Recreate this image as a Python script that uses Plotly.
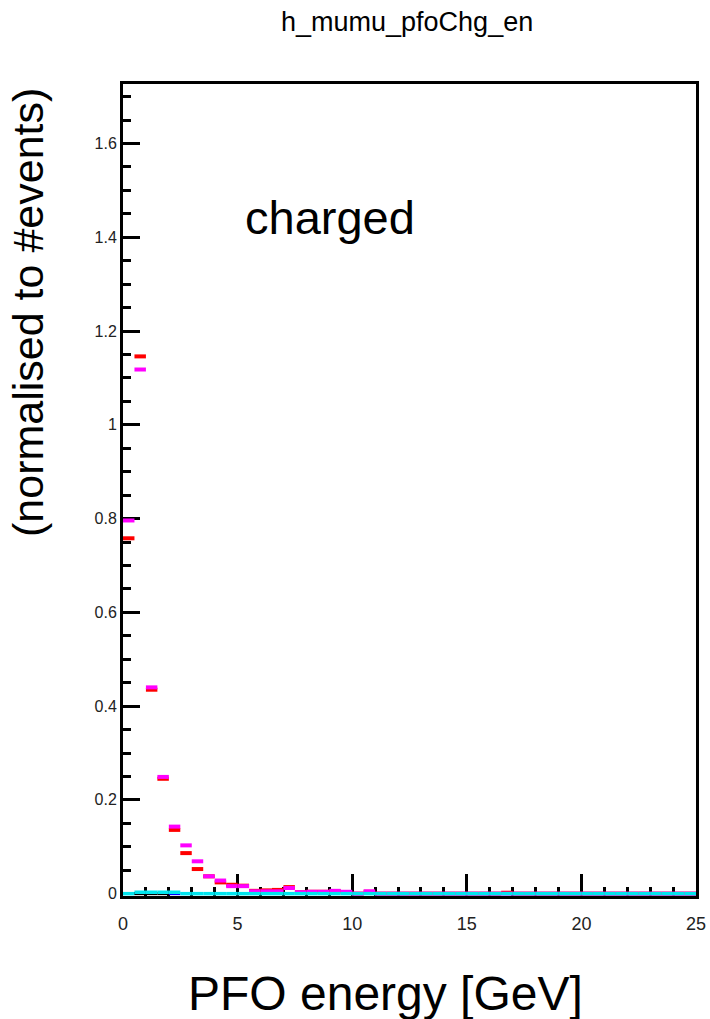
import plotly.graph_objects as go

# PFO energy histogram, 0.5 GeV bins from 0 to 25 GeV
bin_lo = [0.0, 0.5, 1.0, 1.5, 2.0, 2.5, 3.0, 3.5, 4.0, 4.5,
          5.0, 5.5, 6.0, 6.5, 7.0, 7.5, 8.0, 8.5, 9.0, 9.5,
          10.0, 10.5, 11.0, 11.5, 12.0, 12.5, 13.0, 13.5, 14.0, 14.5,
          15.0, 15.5, 16.0, 16.5, 17.0, 17.5, 18.0, 18.5, 19.0, 19.5,
          20.0, 20.5, 21.0, 21.5, 22.0, 22.5, 23.0, 23.5, 24.0, 24.5]
bin_width = 0.5

red_vals = [0.758, 1.146, 0.435, 0.245, 0.136, 0.0865, 0.0525, 0.037, 0.024, 0.019,
            0.017, 0.006, 0.007, 0.008, 0.014, 0.003, 0.004, 0.004, 0.005, 0.003,
            0.0, 0.004, 0.0, 0.0, 0.0, 0.0, 0.0, 0.0, 0.0, 0.0,
            0.0, 0.0, 0.0, 0.002, 0.0, 0.0, 0.0, 0.0, 0.0, 0.0,
            0.0, 0.0, 0.0, 0.0, 0.0, 0.0, 0.0, 0.0, 0.0, 0.0]

magenta_vals = [0.796, 1.118, 0.440, 0.249, 0.143, 0.103, 0.069, 0.037, 0.028, 0.016,
                0.016, 0.005, 0.005, 0.005, 0.012, 0.003, 0.004, 0.004, 0.006, 0.004,
                0.0, 0.005, 0.0, 0.0, 0.0, 0.0, 0.0, 0.0, 0.0, 0.0,
                0.0, 0.0, 0.0, 0.0, 0.0, 0.0, 0.0, 0.0, 0.0, 0.0,
                0.0, 0.0, 0.0, 0.0, 0.0, 0.0, 0.0, 0.0, 0.0, 0.0]

cyan_vals = [0.0, 0.003, 0.003, 0.003, 0.003, 0.0, 0.0, 0.0, 0.0, 0.0,
             0.0, 0.0, 0.0, 0.0, 0.0, 0.0, 0.0, 0.0, 0.0, 0.0,
             0.0, 0.0, 0.0, 0.0, 0.0, 0.0, 0.0, 0.0, 0.0, 0.0,
             0.0, 0.0, 0.0, 0.0, 0.0, 0.0, 0.0, 0.0, 0.0, 0.0,
             0.0, 0.0, 0.0, 0.0, 0.0, 0.0, 0.0, 0.0, 0.0, 0.0]

black_bins = [0.5, 1.0, 1.5]
black_vals = [0.0, 0.0, 0.0]
blue_bins = [2.0]
blue_vals = [0.0]

x_ticks = [0, 5, 10, 15, 20, 25]
y_ticks = [0, 0.2, 0.4, 0.6, 0.8, 1.0, 1.2, 1.4, 1.6]
y_tick_text = ["0", "0.2", "0.4", "0.6", "0.8", "1", "1.2", "1.4", "1.6"]

FONT = "Liberation Sans, Arial, sans-serif"

# plot-area geometry in pixels
L, R, T, B = 123, 14, 84, 123
PW, PH = 710 - L - R, 1019 - T - B


def px_x(px):
    return (px - L) / PW


def px_y(py):
    return (1019 - B - py) / PH


def hist_trace(lows, vals, color, thick):
    centers = [lo + bin_width / 2 for lo in lows]
    return go.Scatter(
        x=centers, y=vals, mode="markers",
        marker=dict(size=0.1, color=color, opacity=0),
        error_x=dict(type="constant", value=bin_width / 2, color=color,
                     thickness=thick, width=0),
        cliponaxis=False, showlegend=False, hoverinfo="x+y",
    )


def label(text, cx, cy, size, angle=0):
    return dict(text=text, xref="paper", yref="paper",
                x=px_x(cx), y=px_y(cy), xanchor="center", yanchor="middle",
                showarrow=False, textangle=angle,
                font=dict(size=size, family=FONT, color="black"))


fig = go.Figure()
fig.add_trace(hist_trace(black_bins, black_vals, "#000000", 3))
fig.add_trace(hist_trace(blue_bins, blue_vals, "#0000ff", 3))
fig.add_trace(hist_trace(bin_lo, red_vals, "#ff0000", 4))
fig.add_trace(hist_trace(bin_lo, magenta_vals, "#ff00ff", 4))
fig.add_trace(hist_trace(bin_lo, cyan_vals, "#00e5ee", 3.5))

fig.update_layout(
    width=710, height=1019,
    margin=dict(l=L, r=R, t=T, b=B, autoexpand=False),
    paper_bgcolor="white", plot_bgcolor="white",
    font=dict(family=FONT, color="#000000"),
    xaxis=dict(
        range=[0, 25], showgrid=False, zeroline=False,
        showline=True, linecolor="black", linewidth=3, mirror=True,
        ticks="inside", ticklen=22, tickwidth=3, tickcolor="black",
        tickvals=x_ticks, ticktext=[str(v) for v in x_ticks],
        tickfont=dict(size=18, color="#222222"),
        ticklabelstandoff=9,
        minor=dict(dtick=1, ticks="inside", ticklen=9, tickwidth=3, tickcolor="black"),
        layer="below traces",
    ),
    yaxis=dict(
        range=[-0.005, 1.727], showgrid=False, zeroline=False,
        showline=True, linecolor="black", linewidth=3, mirror=True,
        ticks="inside", ticklen=17, tickwidth=3, tickcolor="black",
        tickvals=y_ticks, ticktext=y_tick_text,
        tickfont=dict(size=16, color="#222222"),
        minor=dict(dtick=0.05, tick0=0, ticks="inside", ticklen=8, tickwidth=3, tickcolor="black"),
        layer="below traces",
    ),
    annotations=[
        label("h_mumu_pfoChg_en", 407, 22, 27),
        label("charged", 330, 218, 47),
        label("PFO energy [GeV]", 385, 993, 48),
        label("(normalised to #events)", 28, 313, 43, angle=-90),
    ],
)

fig.write_html("out.html")
